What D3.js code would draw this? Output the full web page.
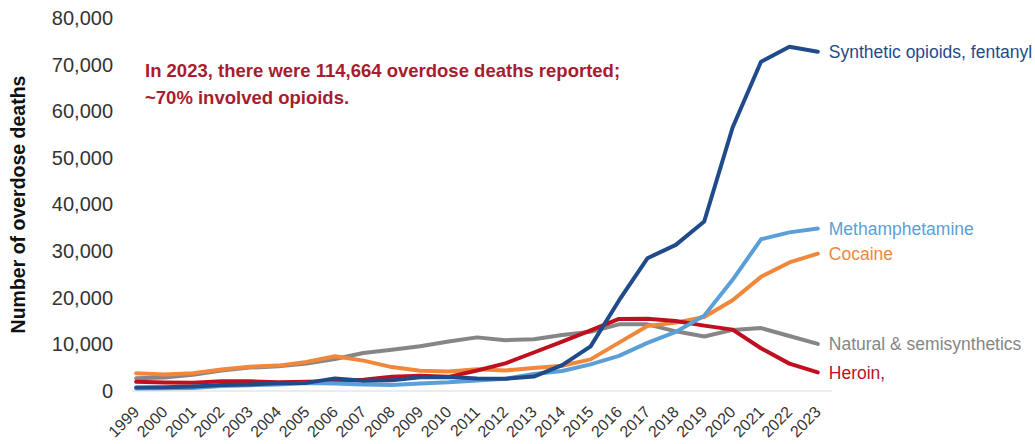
<!DOCTYPE html>
<html>
<head>
<meta charset="utf-8">
<script src="https://cdn.jsdelivr.net/npm/d3@7"></script>
<style>
  html, body { margin: 0; padding: 0; background: #fff; }
  svg { display: block; font-family: "Liberation Sans", Arial, sans-serif; }
</style>
</head>
<body>
<svg id="chart" width="1035" height="444"></svg>
<script>
const years = ["1999","2000","2001","2002","2003","2004","2005","2006","2007","2008","2009","2010","2011","2012","2013","2014","2015","2016","2017","2018","2019","2020","2021","2022","2023"];
const yTicks = [0, 10000, 20000, 30000, 40000, 50000, 60000, 70000, 80000];

const syntheticOpioids = [730, 782, 957, 1295, 1400, 1664, 1742, 2707, 2213, 2306, 2946, 3007, 2666, 2628, 3105, 5544, 9580, 19413, 28466, 31335, 36359, 56516, 70601, 73838, 72776];
const methamphetamine  = [547, 578, 637, 1051, 1253, 1393, 1717, 1600, 1401, 1302, 1632, 1854, 2266, 2635, 3627, 4298, 5716, 7542, 10333, 12676, 16167, 23837, 32537, 34022, 34855];
const cocaine          = [3822, 3544, 3833, 4599, 5199, 5443, 6208, 7448, 6512, 5129, 4350, 4183, 4681, 4404, 4944, 5415, 6784, 10375, 13942, 14666, 15883, 19447, 24486, 27569, 29449];
const naturalSemi      = [2749, 2917, 3497, 4416, 5016, 5292, 5893, 6853, 8150, 8850, 9600, 10600, 11500, 10900, 11100, 12000, 12700, 14300, 14300, 12800, 11700, 13100, 13500, 11800, 10100];
const heroin           = [1960, 1842, 1779, 2089, 2080, 1878, 2009, 2088, 2399, 3041, 3278, 3036, 4397, 5925, 8257, 10574, 12989, 15469, 15482, 14996, 14019, 13165, 9173, 5871, 3984];

const seriesNames  = ["Synthetic opioids, fentanyl", "Methamphetamine", "Cocaine", "Natural & semisynthetics", "Heroin,"];
const seriesValues = [syntheticOpioids, methamphetamine, cocaine, naturalSemi, heroin];
const seriesColors = ["#1f4b8a", "#5b9fd9", "#f0873a", "#868686", "#c0101f"];
// drawing order (bottom to top)
const drawOrder = [3, 2, 4, 1, 0];

const annotationLines = ["In 2023, there were 114,664 overdose deaths reported;", "~70% involved opioids."];
const yTitle = "Number of overdose deaths";

const svg = d3.select("#chart");

const x = d3.scaleBand().domain(years).range([122, 832]).padding(0);
const xc = d => x(d) + x.bandwidth() / 2;
const y = d3.scaleLinear().domain([0, 80000]).range([391, 18]);

// x axis baseline
svg.append("line")
  .attr("x1", x.range()[0] + 10).attr("x2", x.range()[1])
  .attr("y1", y(0)).attr("y2", y(0))
  .attr("stroke", "#d9d9d9").attr("stroke-width", 1.2);

// y axis
const yAxis = svg.append("g")
  .attr("transform", `translate(${x.range()[0]},0)`)
  .call(d3.axisLeft(y).tickValues(yTicks).tickFormat(d3.format(",")).tickSize(0).tickPadding(9));
yAxis.select(".domain").remove();
yAxis.selectAll("text")
  .attr("font-size", "20px")
  .attr("font-family", "'Liberation Sans', Arial, sans-serif")
  .attr("fill", "#333");

// x axis labels
const xAxis = svg.append("g")
  .attr("transform", `translate(0,${y(0)})`)
  .call(d3.axisBottom(x).tickSize(0).tickFormat(d => d));
xAxis.select(".domain").remove();
xAxis.selectAll(".tick text")
  .attr("font-size", "16px")
  .attr("font-family", "'Liberation Sans', Arial, sans-serif")
  .attr("fill", "#333")
  .attr("text-anchor", "end")
  .attr("dy", 0)
  .attr("y", 0)
  .attr("transform", "translate(4,22) rotate(-45)");

// y title
svg.append("text")
  .attr("transform", `translate(25,${(y(0) + y(80000)) / 2}) rotate(-90)`)
  .attr("text-anchor", "middle")
  .attr("font-size", "19.5px")
  .attr("font-weight", "bold")
  .attr("fill", "#111")
  .text(yTitle);

// lines
const line = d3.line().x((d, i) => xc(years[i])).y(d => y(d));
drawOrder.forEach(k => {
  svg.append("path")
    .datum(seriesValues[k])
    .attr("fill", "none")
    .attr("stroke", seriesColors[k])
    .attr("stroke-width", 4)
    .attr("stroke-linejoin", "round")
    .attr("stroke-linecap", "round")
    .attr("d", line);
});

// end labels
seriesNames.forEach((name, k) => {
  const vals = seriesValues[k];
  svg.append("text")
    .attr("x", xc(years[years.length - 1]) + 11)
    .attr("y", y(vals[vals.length - 1]))
    .attr("dy", "0.35em")
    .attr("font-size", "17.5px")
    .attr("fill", seriesColors[k])
    .text(name);
});

// annotation
const ann = svg.append("text")
  .attr("x", 145).attr("y", 77)
  .attr("font-size", "18.5px")
  .attr("font-weight", "bold")
  .attr("fill", "#a81c30");
annotationLines.forEach((t, i) => {
  ann.append("tspan").attr("x", 145).attr("dy", i === 0 ? 0 : 27).text(t);
});
</script>
</body>
</html>
